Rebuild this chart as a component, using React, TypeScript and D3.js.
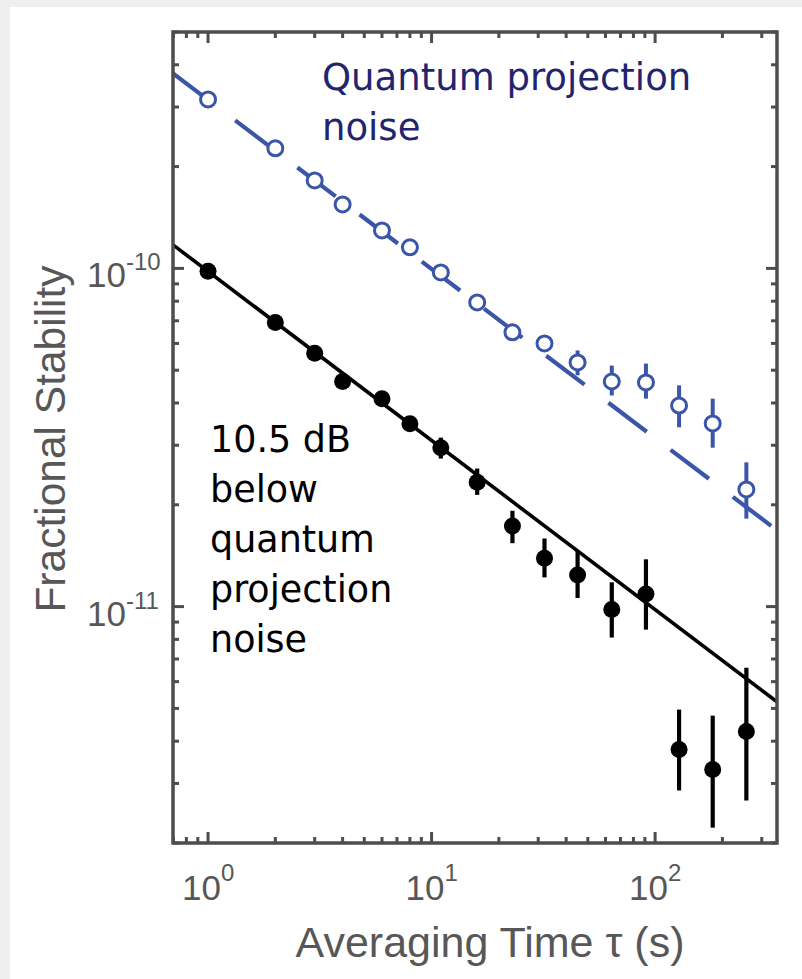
import React from 'react';
import * as d3 from 'd3';

// Averaging times (s)
const tau = [1, 2, 3, 4, 6, 8, 11, 16, 23, 32, 45, 64, 91, 128, 181, 256];

// Squeezed (filled black) fractional stability
const squeezedValues = [9.8e-11, 6.92e-11, 5.61e-11, 4.63e-11, 4.12e-11, 3.47e-11, 2.95e-11, 2.33e-11, 1.73e-11, 1.39e-11, 1.24e-11, 9.8e-12, 1.09e-11, 3.78e-12, 3.3e-12, 4.27e-12];
const squeezedHigh = [1.01e-10, 7.1e-11, 5.8e-11, 4.8e-11, 4.25e-11, 3.6e-11, 3.16e-11, 2.56e-11, 1.92e-11, 1.59e-11, 1.46e-11, 1.18e-11, 1.38e-11, 4.96e-12, 4.76e-12, 6.6e-12];
const squeezedLow = [9.5e-11, 6.75e-11, 5.45e-11, 4.5e-11, 4.0e-11, 3.35e-11, 2.74e-11, 2.14e-11, 1.54e-11, 1.22e-11, 1.06e-11, 8.1e-12, 8.55e-12, 2.86e-12, 2.22e-12, 2.67e-12];

// Quantum projection noise (open blue)
const qpnValues = [3.16e-10, 2.265e-10, 1.82e-10, 1.546e-10, 1.295e-10, 1.154e-10, 9.73e-11, 7.93e-11, 6.47e-11, 6.0e-11, 5.27e-11, 4.63e-11, 4.6e-11, 3.93e-11, 3.48e-11, 2.22e-11];
const qpnHigh = [3.2e-10, 2.3e-10, 1.85e-10, 1.57e-10, 1.32e-10, 1.18e-10, 1.0e-10, 8.2e-11, 6.7e-11, 6.3e-11, 5.72e-11, 5.16e-11, 5.23e-11, 4.51e-11, 4.12e-11, 2.67e-11];
const qpnLow = [3.12e-10, 2.23e-10, 1.79e-10, 1.52e-10, 1.27e-10, 1.13e-10, 9.5e-11, 7.7e-11, 6.25e-11, 5.7e-11, 4.83e-11, 4.21e-11, 4.12e-11, 3.39e-11, 2.95e-11, 1.82e-11];

// Fit lines: value at tau = 1 s, and slope (tau^-1/2)
const fitAmplitudes = [3.15e-10, 9.8e-11];
const fitSlope = -0.5;

// Axes
const xDomain = [0.697, 351];
const yDomain = [2e-12, 5e-10];
const xMajorTicks = [1, 10, 100];
const xTickExponents = ['0', '1', '2'];
const yMajorTicks = [1e-11, 1e-10];
const yTickExponents = ['-11', '-10'];

const xLabel = 'Averaging Time \u03c4 (s)';
const yLabel = 'Fractional Stability';
const qpnLabel = ['Quantum projection', 'noise'];
const squeezedLabel = ['10.5 dB', 'below', 'quantum', 'projection', 'noise'];

const W = 802;
const H = 979;
const L = 173, R = 777, T = 32, B = 843;

const BLUE = '#3b56a8';
const NAVY = '#232470';
const AX = '#4d4d4d';
const LBL = '#575757';

export default function App() {
  const x = d3.scaleLog().domain(xDomain).range([L, R]);
  const y = d3.scaleLog().domain(yDomain).range([B, T]);

  const xMinor = x.ticks().filter((t) => !xMajorTicks.some((m) => Math.abs(m - t) / m < 1e-6));
  const yMinor = y.ticks().filter((t) => !yMajorTicks.some((m) => Math.abs(m - t) / m < 1e-6));

  const fitLine = (a: number) => {
    const pts: [number, number][] = [xDomain[0], xDomain[1]].map((t) => [t, a * Math.pow(t, fitSlope)]);
    return d3.line<[number, number]>().x((d) => x(d[0])).y((d) => y(d[1]))(pts) || '';
  };

  const majorLen = 11;
  const minorLen = 6;

  return (
    <svg width={W} height={H} style={{ position: 'absolute', left: 0, top: 0, display: 'block' }}>
      <rect x={0} y={0} width={W} height={H} fill="#efefef" />
      <rect x={10} y={7} width={W - 10} height={H - 7} fill="#ffffff" />
      <defs>
        <clipPath id="plotclip">
          <rect x={L} y={T} width={R - L} height={B - T} />
        </clipPath>
      </defs>

      <g clipPath="url(#plotclip)">
        {/* QPN dashed fit */}
        <path d={fitLine(fitAmplitudes[0])} stroke={BLUE} strokeWidth={4.2} fill="none" strokeDasharray="48,30" />
        {/* QPN error bars */}
        {tau.map((t, i) => (
          <line key={'qe' + i} x1={x(t)} x2={x(t)} y1={y(qpnLow[i])} y2={y(qpnHigh[i])} stroke={BLUE} strokeWidth={4} />
        ))}
        {tau.map((t, i) => (
          <circle key={'qc' + i} cx={x(t)} cy={y(qpnValues[i])} r={7.5} fill="#fff" stroke={BLUE} strokeWidth={3} />
        ))}

        {/* Squeezed fit */}
        <path d={fitLine(fitAmplitudes[1])} stroke="#000" strokeWidth={3.6} fill="none" />
        {tau.map((t, i) => (
          <line key={'se' + i} x1={x(t)} x2={x(t)} y1={y(squeezedLow[i])} y2={y(squeezedHigh[i])} stroke="#000" strokeWidth={4.2} />
        ))}
        {tau.map((t, i) => (
          <circle key={'sc' + i} cx={x(t)} cy={y(squeezedValues[i])} r={8.5} fill="#000" />
        ))}
      </g>

      {/* ticks */}
      <g stroke={AX} strokeWidth={3}>
        {xMajorTicks.map((t, i) => (
          <g key={'xM' + i}>
            <line x1={x(t)} x2={x(t)} y1={B} y2={B - majorLen} />
            <line x1={x(t)} x2={x(t)} y1={T} y2={T + majorLen} />
          </g>
        ))}
        {xMinor.map((t, i) => (
          <g key={'xm' + i}>
            <line x1={x(t)} x2={x(t)} y1={B} y2={B - minorLen} />
            <line x1={x(t)} x2={x(t)} y1={T} y2={T + minorLen} />
          </g>
        ))}
        {yMajorTicks.map((t, i) => (
          <g key={'yM' + i}>
            <line x1={L} x2={L + majorLen} y1={y(t)} y2={y(t)} />
            <line x1={R} x2={R - majorLen} y1={y(t)} y2={y(t)} />
          </g>
        ))}
        {yMinor.map((t, i) => (
          <g key={'ym' + i}>
            <line x1={L} x2={L + minorLen} y1={y(t)} y2={y(t)} />
            <line x1={R} x2={R - minorLen} y1={y(t)} y2={y(t)} />
          </g>
        ))}
      </g>
      <rect x={L} y={T} width={R - L} height={B - T} fill="none" stroke={AX} strokeWidth={3.5} />

      {/* tick labels */}
      <g fontFamily="'Liberation Sans', Arimo, Arial, sans-serif" fill={LBL}>
        {xMajorTicks.map((t, i) => (
          <text key={'xl' + i} x={x(t) - 26} y={900} fontSize={35}>
            10
            <tspan dy={-19} fontSize={24}>{xTickExponents[i]}</tspan>
          </text>
        ))}
        {yMajorTicks.map((t, i) => (
          <text key={'yl' + i} x={87} y={y(t) + 19} fontSize={35}>
            10
            <tspan dy={-17} fontSize={24}>{yTickExponents[i]}</tspan>
          </text>
        ))}
        <text x={490} y={957} fontSize={43} textAnchor="middle">{xLabel}</text>
        <text transform={`translate(65,439) rotate(-90)`} fontSize={42.5} textAnchor="middle">{yLabel}</text>
      </g>

      {/* annotations */}
      <g fontFamily="'DejaVu Sans', Verdana, sans-serif">
        {qpnLabel.map((s, i) => (
          <text key={'q' + i} x={322} y={90 + i * 50} fill={NAVY} fontSize={37}>{s}</text>
        ))}
        {squeezedLabel.map((s, i) => (
          <text key={'s' + i} x={210} y={452 + i * 50} fill="#000" fontSize={36.5}>{s}</text>
        ))}
      </g>
    </svg>
  );
}
